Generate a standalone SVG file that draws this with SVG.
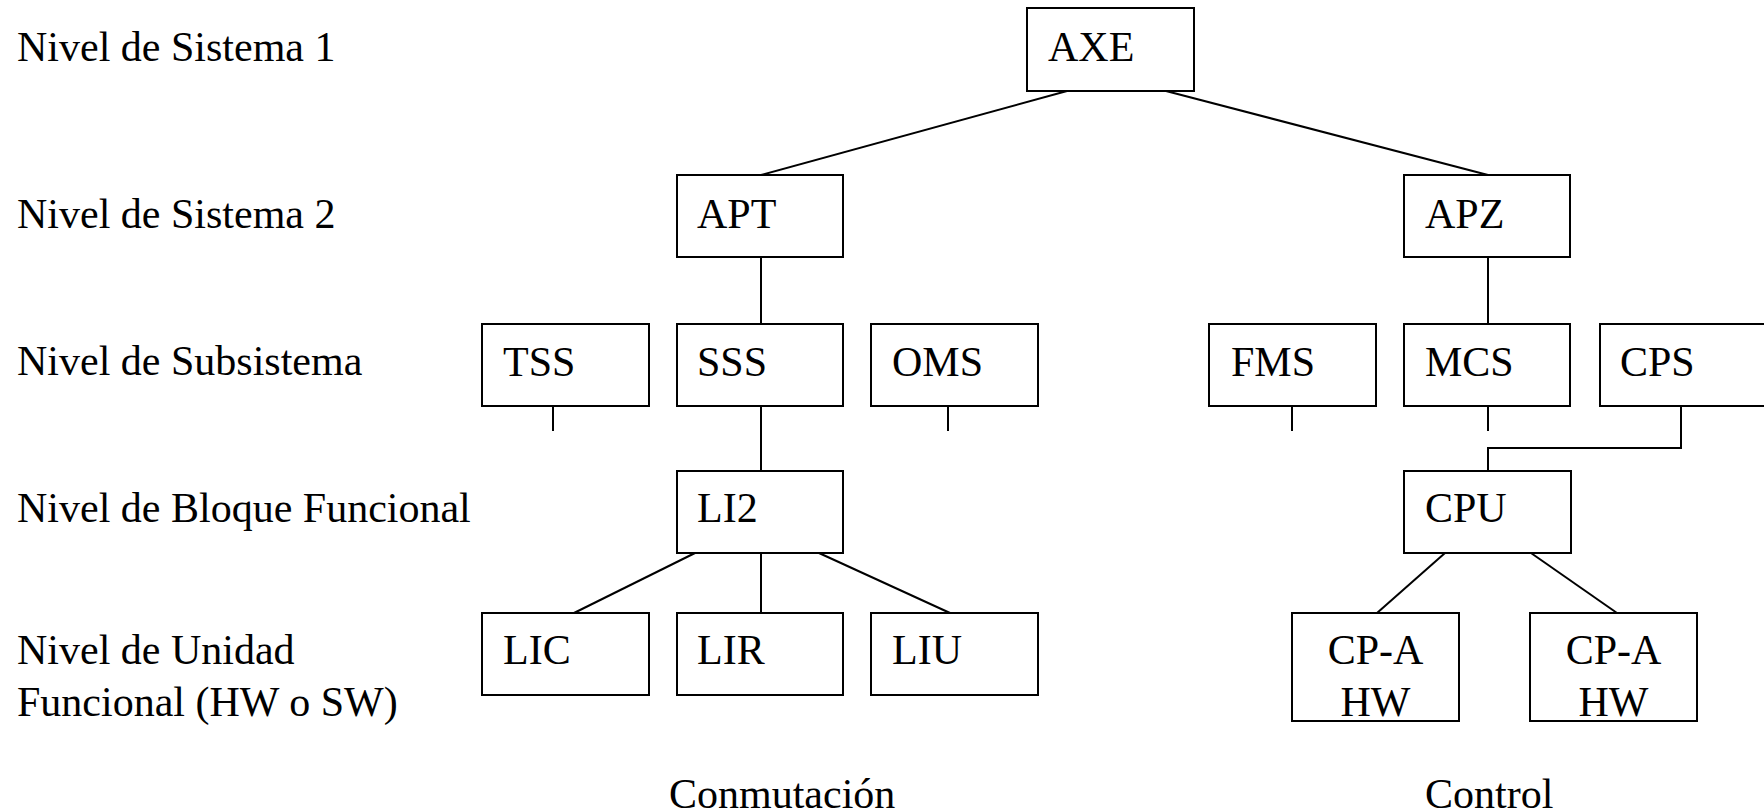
<svg xmlns="http://www.w3.org/2000/svg" width="1764" height="812" viewBox="0 0 1764 812">
<style>
text{font-family:"Liberation Serif","Times New Roman",serif;font-size:42px;fill:#000}
.b{fill:#fff;stroke:#000;stroke-width:2}
.c{fill:none;stroke:#000;stroke-width:2}
.m{text-anchor:middle}
</style>
<rect width="1764" height="812" fill="#fff"/>
<g id="labels">
<text x="17" y="61">Nivel de Sistema 1</text>
<text x="17" y="228">Nivel de Sistema 2</text>
<text x="17" y="375">Nivel de Subsistema</text>
<text x="17" y="522">Nivel de Bloque Funcional</text>
<text x="17" y="664">Nivel de Unidad</text>
<text x="17" y="716">Funcional (HW o SW)</text>
<text x="669" y="808">Conmutación</text>
<text x="1425" y="808">Control</text>
</g>
<g id="connectors">
<line class="c" x1="1067" y1="91" x2="761" y2="175"/>
<line class="c" x1="1166" y1="91" x2="1488" y2="175"/>
<line class="c" x1="761" y1="257" x2="761" y2="324"/>
<line class="c" x1="1488" y1="257" x2="1488" y2="324"/>
<line class="c" x1="553" y1="406" x2="553" y2="431"/>
<line class="c" x1="761" y1="406" x2="761" y2="470"/>
<line class="c" x1="948" y1="406" x2="948" y2="431"/>
<line class="c" x1="1292" y1="406" x2="1292" y2="431"/>
<line class="c" x1="1488" y1="406" x2="1488" y2="431"/>
<polyline class="c" points="1681,406 1681,448 1488,448 1488,471"/>
<line class="c" x1="695" y1="553" x2="574" y2="613"/>
<line class="c" x1="761" y1="553" x2="761" y2="613"/>
<line class="c" x1="819" y1="553" x2="950" y2="613"/>
<line class="c" x1="1445" y1="553" x2="1377" y2="613"/>
<line class="c" x1="1531" y1="553" x2="1617" y2="613"/>
</g>
<g id="AXE"><rect class="b" x="1027" y="8" width="167" height="83"/><text x="1048" y="61">AXE</text></g>
<g id="APT"><rect class="b" x="677" y="175" width="166" height="82"/><text x="697" y="228">APT</text></g>
<g id="APZ"><rect class="b" x="1404" y="175" width="166" height="82"/><text x="1425" y="228">APZ</text></g>
<g id="TSS"><rect class="b" x="482" y="324" width="167" height="82"/><text x="503" y="376">TSS</text></g>
<g id="SSS"><rect class="b" x="677" y="324" width="166" height="82"/><text x="697" y="376">SSS</text></g>
<g id="OMS"><rect class="b" x="871" y="324" width="167" height="82"/><text x="892" y="376">OMS</text></g>
<g id="FMS"><rect class="b" x="1209" y="324" width="167" height="82"/><text x="1231" y="376">FMS</text></g>
<g id="MCS"><rect class="b" x="1404" y="324" width="166" height="82"/><text x="1425" y="376">MCS</text></g>
<g id="CPS"><rect class="b" x="1600" y="324" width="170" height="82"/><text x="1620" y="376">CPS</text></g>
<g id="LI2"><rect class="b" x="677" y="471" width="166" height="82"/><text x="697" y="522">LI2</text></g>
<g id="CPU"><rect class="b" x="1404" y="471" width="167" height="82"/><text x="1425" y="522">CPU</text></g>
<g id="LIC"><rect class="b" x="482" y="613" width="167" height="82"/><text x="503" y="664">LIC</text></g>
<g id="LIR"><rect class="b" x="677" y="613" width="166" height="82"/><text x="697" y="664">LIR</text></g>
<g id="LIU"><rect class="b" x="871" y="613" width="167" height="82"/><text x="892" y="664">LIU</text></g>
<g id="CPA1"><rect class="b" x="1292" y="613" width="167" height="108"/><text class="m" x="1375.5" y="664">CP-A</text><text class="m" x="1375.5" y="716">HW</text></g>
<g id="CPA2"><rect class="b" x="1530" y="613" width="167" height="108"/><text class="m" x="1613.5" y="664">CP-A</text><text class="m" x="1613.5" y="716">HW</text></g>
</svg>
